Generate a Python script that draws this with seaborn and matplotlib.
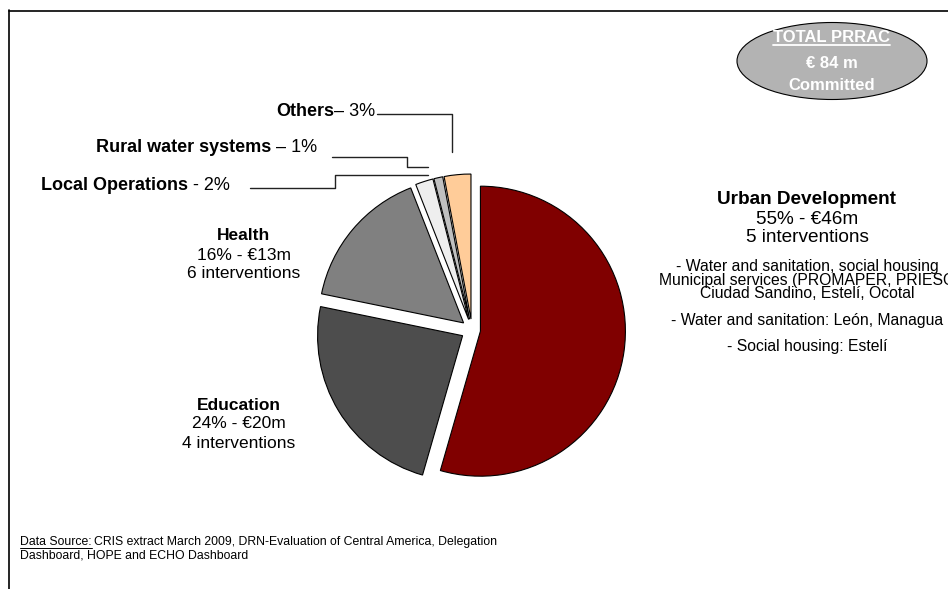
import matplotlib
matplotlib.use("Agg")
import matplotlib.pyplot as plt
from matplotlib.patches import Ellipse
import seaborn as sns

# ---- data -------------------------------------------------------------
categories = ["Urban Development", "Education", "Health",
              "Local Operations", "Rural water systems", "Others"]
shares = [55, 24, 16, 2, 1, 3]            # % of committed amount
amounts_m = [46, 20, 13]                  # EUR million (first three sectors)
interventions = [5, 4, 6]                 # number of interventions
total_committed = 84                      # EUR million
urban_details = [
    "- Water and sanitation, social housing",
    "Municipal services (PROMAPER, PRIESO",
    "Ciudad Sandino, Estelí, Ocotal",
]
urban_details2 = ["- Water and sanitation: León, Managua",
                  "- Social housing: Estelí"]

# ---- style ------------------------------------------------------------
colors = ["#800000", "#4d4d4d", "#808080", "#eeeeee", "#c0c0c0", "#ffcc99"]
explode = [8.5, 11, 11, 11, 11, 11]

sns.set_theme(style="white")
plt.rcParams["font.family"] = ["Liberation Sans", "DejaVu Sans"]
plt.rcParams["text.color"] = "black"

W, H = 948, 589
fig = plt.figure(figsize=(W / 100, H / 100), dpi=100)
ax = fig.add_axes([0, 0, 1, 1])


def py(y):
    """Convert a top-down pixel row to the bottom-up axis coordinate."""
    return H - y


wedges, _ = ax.pie(shares, colors=colors, explode=explode, radius=145,
                   center=(472, py(330)), startangle=90, counterclock=False,
                   wedgeprops=dict(edgecolor="black", linewidth=0.8))
ax.set_xlim(0, W)
ax.set_ylim(0, H)
ax.set_aspect("auto")
ax.set_axis_off()

# frame lines (top and left)
ax.plot([9, W], [py(10.5), py(10.5)], color="black", lw=1.2)
ax.plot([9.5, 9.5], [py(10), 0], color="black", lw=1.2)

renderer = fig.canvas.get_renderer()


def pieces_right(x, y, parts, size):
    """Draw (text, weight) parts on one line, right-aligned at x."""
    cur = x
    for txt, weight in reversed(parts):
        t = ax.text(cur, py(y), txt, ha="right", va="center",
                    fontsize=size, fontweight=weight, color="black")
        bb = t.get_window_extent(renderer)
        cur = bb.x0


# small-slice labels with leader lines
pieces_right(375, 111, [(categories[5], "bold"), ("– %d%%" % shares[5], "normal")], 13)
pieces_right(317, 147, [(categories[4], "bold"), (" – %d%%" % shares[4], "normal")], 13)
pieces_right(230, 185, [(categories[3], "bold"), (" - %d%%" % shares[3], "normal")], 13)

lc = dict(color="#222222", lw=1.0)
ax.plot([377, 452, 452], [py(114), py(114), py(152)], **lc)
ax.plot([332, 407, 407, 428], [py(157), py(157), py(167), py(167)], **lc)
ax.plot([250, 335, 335, 428], [py(188), py(188), py(175), py(175)], **lc)


# main sector labels
def block(x, ys, idx, size):
    ax.text(x, py(ys[0]), categories[idx], ha="center", va="center",
            fontsize=size, fontweight="bold")
    ax.text(x, py(ys[1]), "%d%% - €%dm" % (shares[idx], amounts_m[idx]),
            ha="center", va="center", fontsize=size)
    ax.text(x, py(ys[2]), "%d interventions" % interventions[idx],
            ha="center", va="center", fontsize=size)


block(244, [236, 255, 273], 2, 12.5)
block(239, [406, 424, 443], 1, 12.5)
block(807, [200, 219, 237], 0, 13.7)

# urban development programme details (tightly spaced block)
ax.text(807, py(280), "\n".join(urban_details), ha="center", va="center",
        ma="center", fontsize=11.3, linespacing=0.85)
for y, line in zip([321, 346], urban_details2):
    ax.text(807, py(y), line, ha="center", va="center", fontsize=11.3)

# total committed badge
ax.add_patch(Ellipse((832, py(61)), 190, 77, facecolor="#b3b3b3",
                     edgecolor="black", lw=0.8))
badge = dict(ha="center", va="center", fontsize=12, fontweight="bold",
             color="white")
t = ax.text(832, py(38), "TOTAL PRRAC", **badge)
bb = t.get_window_extent(renderer)
ax.plot([bb.x0, bb.x1], [py(44.5), py(44.5)], color="white", lw=1.3)
ax.text(832, py(63), "€ %d m" % total_committed, **badge)
ax.text(832, py(85), "Committed", **badge)

# data source note
src_label = "Data Source:"
t = ax.text(20, py(542), src_label, ha="left", va="center", fontsize=8.8)
bb = t.get_window_extent(renderer)
ax.plot([bb.x0, bb.x1], [py(547.5), py(547.5)], color="black", lw=0.7)
ax.text(bb.x1 + 2, py(542),
        "CRIS extract March 2009, DRN-Evaluation of Central America, Delegation",
        ha="left", va="center", fontsize=8.8)
ax.text(20, py(556), "Dashboard, HOPE and ECHO Dashboard", ha="left",
        va="center", fontsize=8.8)

fig.savefig("out.png", dpi=100)
